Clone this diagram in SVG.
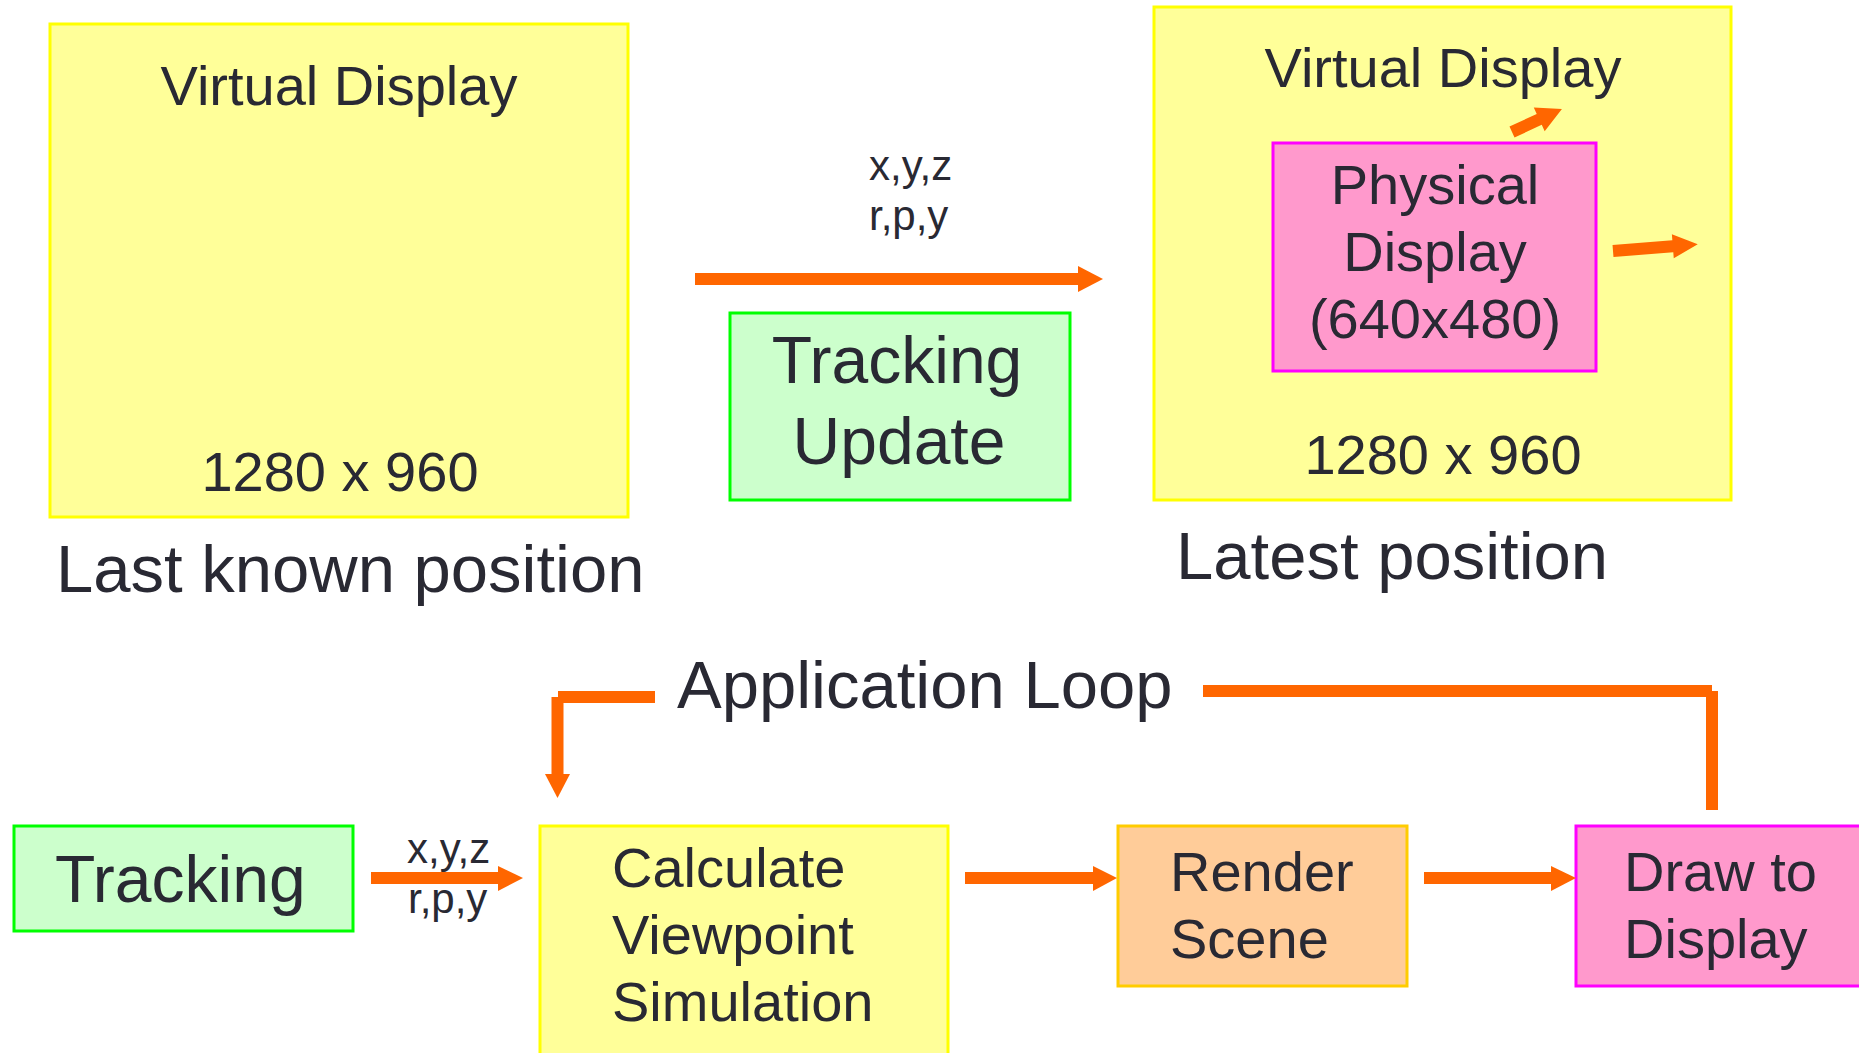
<svg xmlns="http://www.w3.org/2000/svg" width="1859" height="1053" viewBox="0 0 1859 1053">
  <style>
    text { font-family: "Liberation Sans", Arial, "DejaVu Sans", sans-serif; fill: #292933; }
    .t56 { font-size: 56px; }
    .t66 { font-size: 66px; }
    .t67 { font-size: 67px; }
    .t40 { font-size: 42px; }
    .mid { text-anchor: middle; }
    .yellow { fill: #FFFF99; stroke: #FFFF00; stroke-width: 3; }
    .green { fill: #CCFFCC; stroke: #00FF00; stroke-width: 3; }
    .pink { fill: #FF99CC; stroke: #FF00FF; stroke-width: 3; }
    .peach { fill: #FFCC99; stroke: #FFCC00; stroke-width: 3; }
    .wire { stroke: #FF6600; stroke-width: 12; fill: none; stroke-linecap: butt; }
    .head { fill: #FF6600; }
  </style>

  <!-- Upper half: virtual display before tracking update -->
  <g id="virtual-display-old">
    <rect class="yellow" x="50" y="24" width="578" height="493"/>
    <text class="t56 mid" x="339" y="105">Virtual Display</text>
    <text class="t56 mid" x="340" y="491">1280 x 960</text>
  </g>
  <text class="t67" x="56" y="592">Last known position</text>

  <g id="tracking-update">
    <rect class="green" x="730" y="313" width="340" height="187"/>
    <text class="t66 mid" x="897" y="383">Tracking</text>
    <text class="t66 mid" x="899" y="464">Update</text>
  </g>

  <!-- Virtual display after tracking update -->
  <g id="virtual-display-new">
    <rect class="yellow" x="1154" y="7" width="577" height="493"/>
    <text class="t56 mid" x="1443" y="87">Virtual Display</text>
    <text class="t56 mid" x="1443" y="474">1280 x 960</text>
  </g>
  <g id="physical-display">
    <rect class="pink" x="1273" y="143" width="323" height="228"/>
    <text class="t56 mid" x="1435" y="204">Physical</text>
    <text class="t56 mid" x="1435" y="271">Display</text>
    <text class="t56 mid" x="1435" y="338">(640x480)</text>
  </g>
  <text class="t67" x="1176" y="579">Latest position</text>

  <!-- Lower half: application loop -->
  <text class="t67" x="677" y="708">Application Loop</text>

  <g id="tracking">
    <rect class="green" x="14" y="826" width="339" height="105"/>
    <text class="t66" x="55" y="902">Tracking</text>
  </g>
  <g id="calculate-viewpoint">
    <rect class="yellow" x="540" y="826" width="408" height="240"/>
    <text class="t56" x="612" y="887">Calculate</text>
    <text class="t56" x="612" y="954">Viewpoint</text>
    <text class="t56" x="612" y="1021">Simulation</text>
  </g>
  <g id="render-scene">
    <rect class="peach" x="1118" y="826" width="289" height="160"/>
    <text class="t56" x="1170" y="891">Render</text>
    <text class="t56" x="1170" y="958">Scene</text>
  </g>
  <g id="draw-to-display">
    <rect class="pink" x="1576" y="826" width="300" height="160"/>
    <text class="t56" x="1624" y="891">Draw to</text>
    <text class="t56" x="1624" y="958">Display</text>
  </g>

  <g id="connectors">
    <!-- tracking update: old position to new position -->
    <line class="wire" x1="695" y1="279" x2="1079" y2="279"/>
    <polygon class="head" points="1078,266 1103,279 1078,292"/>
    <text class="t40" x="869" y="180">x,y,z</text>
    <text class="t40" x="869" y="230">r,p,y</text>

    <!-- motion hints inside the virtual display -->
    <g transform="translate(1512,132) rotate(-24.8)">
      <polygon class="head" points="0,-6 30,-6 30,-13 55,0 30,13 30,6 0,6"/>
    </g>
    <g transform="translate(1613,251) rotate(-4.5)">
      <polygon class="head" points="0,-6 60,-6 60,-12 85,0 60,12 60,6 0,6"/>
    </g>

    <!-- tracking to calculate viewpoint -->
    <line class="wire" x1="371" y1="878" x2="499" y2="878"/>
    <polygon class="head" points="498,866 523,878 498,891"/>
    <text class="t40" x="407" y="863">x,y,z</text>
    <text class="t40" x="408" y="913">r,p,y</text>

    <!-- calculate to render -->
    <line class="wire" x1="965" y1="878" x2="1094" y2="878"/>
    <polygon class="head" points="1093,866 1117,878 1093,891"/>

    <!-- render to draw -->
    <line class="wire" x1="1424" y1="878" x2="1552" y2="878"/>
    <polygon class="head" points="1551,866 1576,878 1551,891"/>

    <!-- loop back: from draw-to-display up and over -->
    <line class="wire" x1="1712" y1="810" x2="1712" y2="691"/>
    <line class="wire" x1="1712" y1="691" x2="1203" y2="691"/>

    <!-- loop back: down into calculate viewpoint -->
    <line class="wire" x1="655" y1="697" x2="558" y2="697"/>
    <line class="wire" x1="557.5" y1="697" x2="557.5" y2="775"/>
    <polygon class="head" points="545,774 570,774 557.5,798"/>
  </g>
</svg>
